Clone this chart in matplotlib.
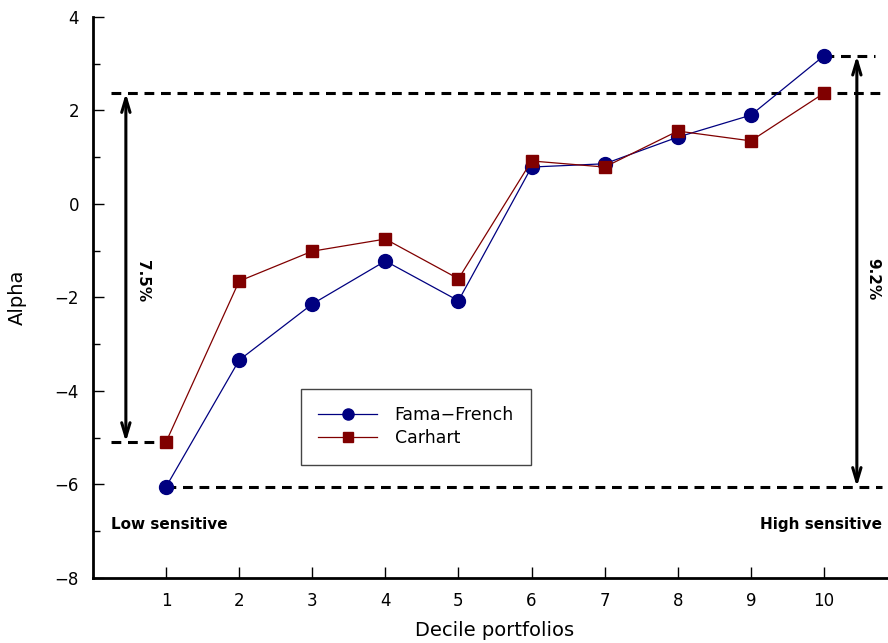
import matplotlib
matplotlib.use("Agg")
import matplotlib.pyplot as plt
from matplotlib.ticker import MultipleLocator

# Decile portfolio alphas under the two factor models
deciles = [1, 2, 3, 4, 5, 6, 7, 8, 9, 10]
fama_french = [-6.05, -3.34, -2.14, -1.22, -2.07, 0.79, 0.86, 1.43, 1.90, 3.17]
carhart = [-5.09, -1.65, -1.01, -0.75, -1.60, 0.92, 0.79, 1.56, 1.35, 2.37]

# spread labels (top minus bottom decile)
carhart_spread = "7.5%"
ff_spread = "9.2%"

plt.rcParams['font.family'] = ['DejaVu Sans']

fig = plt.figure(figsize=(8.88, 6.43), dpi=100)
ax = fig.add_axes([0.1047, 0.1011, 0.9055, 0.8725])

ax.plot(deciles, fama_french, color='#000080', lw=0.9, marker='o', ms=10,
        label='Fama\u2212French', zorder=4)
ax.plot(deciles, carhart, color='#800000', lw=0.9, marker='s', ms=9,
        label='Carhart', zorder=4)

# dashed reference levels at the extreme deciles
dash = dict(color='black', lw=2.2, ls=(0, (3.2, 2.2)), zorder=3)
ax.plot([0.25, 10.8], [carhart[-1], carhart[-1]], **dash)
ax.plot([0.25, deciles[0]], [carhart[0], carhart[0]], **dash)
ax.plot([deciles[0], 10.8], [fama_french[0], fama_french[0]], **dash)
ax.plot([deciles[-1], 10.7], [fama_french[-1], fama_french[-1]], **dash)

# double-headed arrows showing the spreads
arrow = dict(arrowstyle='<->,head_length=1.0,head_width=0.3', color='black', lw=2.2,
             shrinkA=0, shrinkB=0)
ax.annotate('', xy=(0.45, carhart[-1]), xytext=(0.45, carhart[0]), arrowprops=arrow)
ax.annotate('', xy=(10.45, fama_french[-1]), xytext=(10.45, fama_french[0]), arrowprops=arrow)
ax.text(0.68, -1.65, carhart_spread, rotation=-90, ha='center', va='center',
        fontsize=11, fontweight='bold')
ax.text(10.67, -1.6, ff_spread, rotation=-90, ha='center', va='center',
        fontsize=11, fontweight='bold')

ax.text(0.25, -6.85, 'Low sensitive', ha='left', va='center', fontsize=11, fontweight='bold')
ax.text(10.8, -6.85, 'High sensitive', ha='right', va='center', fontsize=11, fontweight='bold')

ax.set_xlim(0, 11)
ax.set_ylim(-8, 4)
ax.set_xticks(deciles)
ax.yaxis.set_major_locator(MultipleLocator(2))
ax.yaxis.set_minor_locator(MultipleLocator(1))
ax.set_yticklabels([f"{int(v)}".replace('-', '\u2212') for v in ax.get_yticks()])
ax.tick_params(axis='both', which='major', direction='in', length=8, width=1,
               labelsize=12, pad=10)
ax.tick_params(axis='y', which='minor', direction='in', length=5, width=1)
ax.tick_params(axis='x', which='major', pad=10)

for side in ['top', 'right']:
    ax.spines[side].set_visible(False)
for side in ['left', 'bottom']:
    ax.spines[side].set_linewidth(2)

ax.set_xlabel('Decile portfolios', fontsize=14, labelpad=8)
ax.set_ylabel('Alpha', fontsize=14, labelpad=20)

leg = ax.legend(loc='upper left', bbox_to_anchor=(0.2587, 0.337), fontsize=12.5,
                fancybox=False, edgecolor='#444444', framealpha=1,
                handlelength=3.4, borderpad=1.0, labelspacing=0.3, handletextpad=1.0,
                borderaxespad=0, markerscale=0.8)
leg.get_frame().set_linewidth(1)

fig.savefig('out.png', dpi=100)
